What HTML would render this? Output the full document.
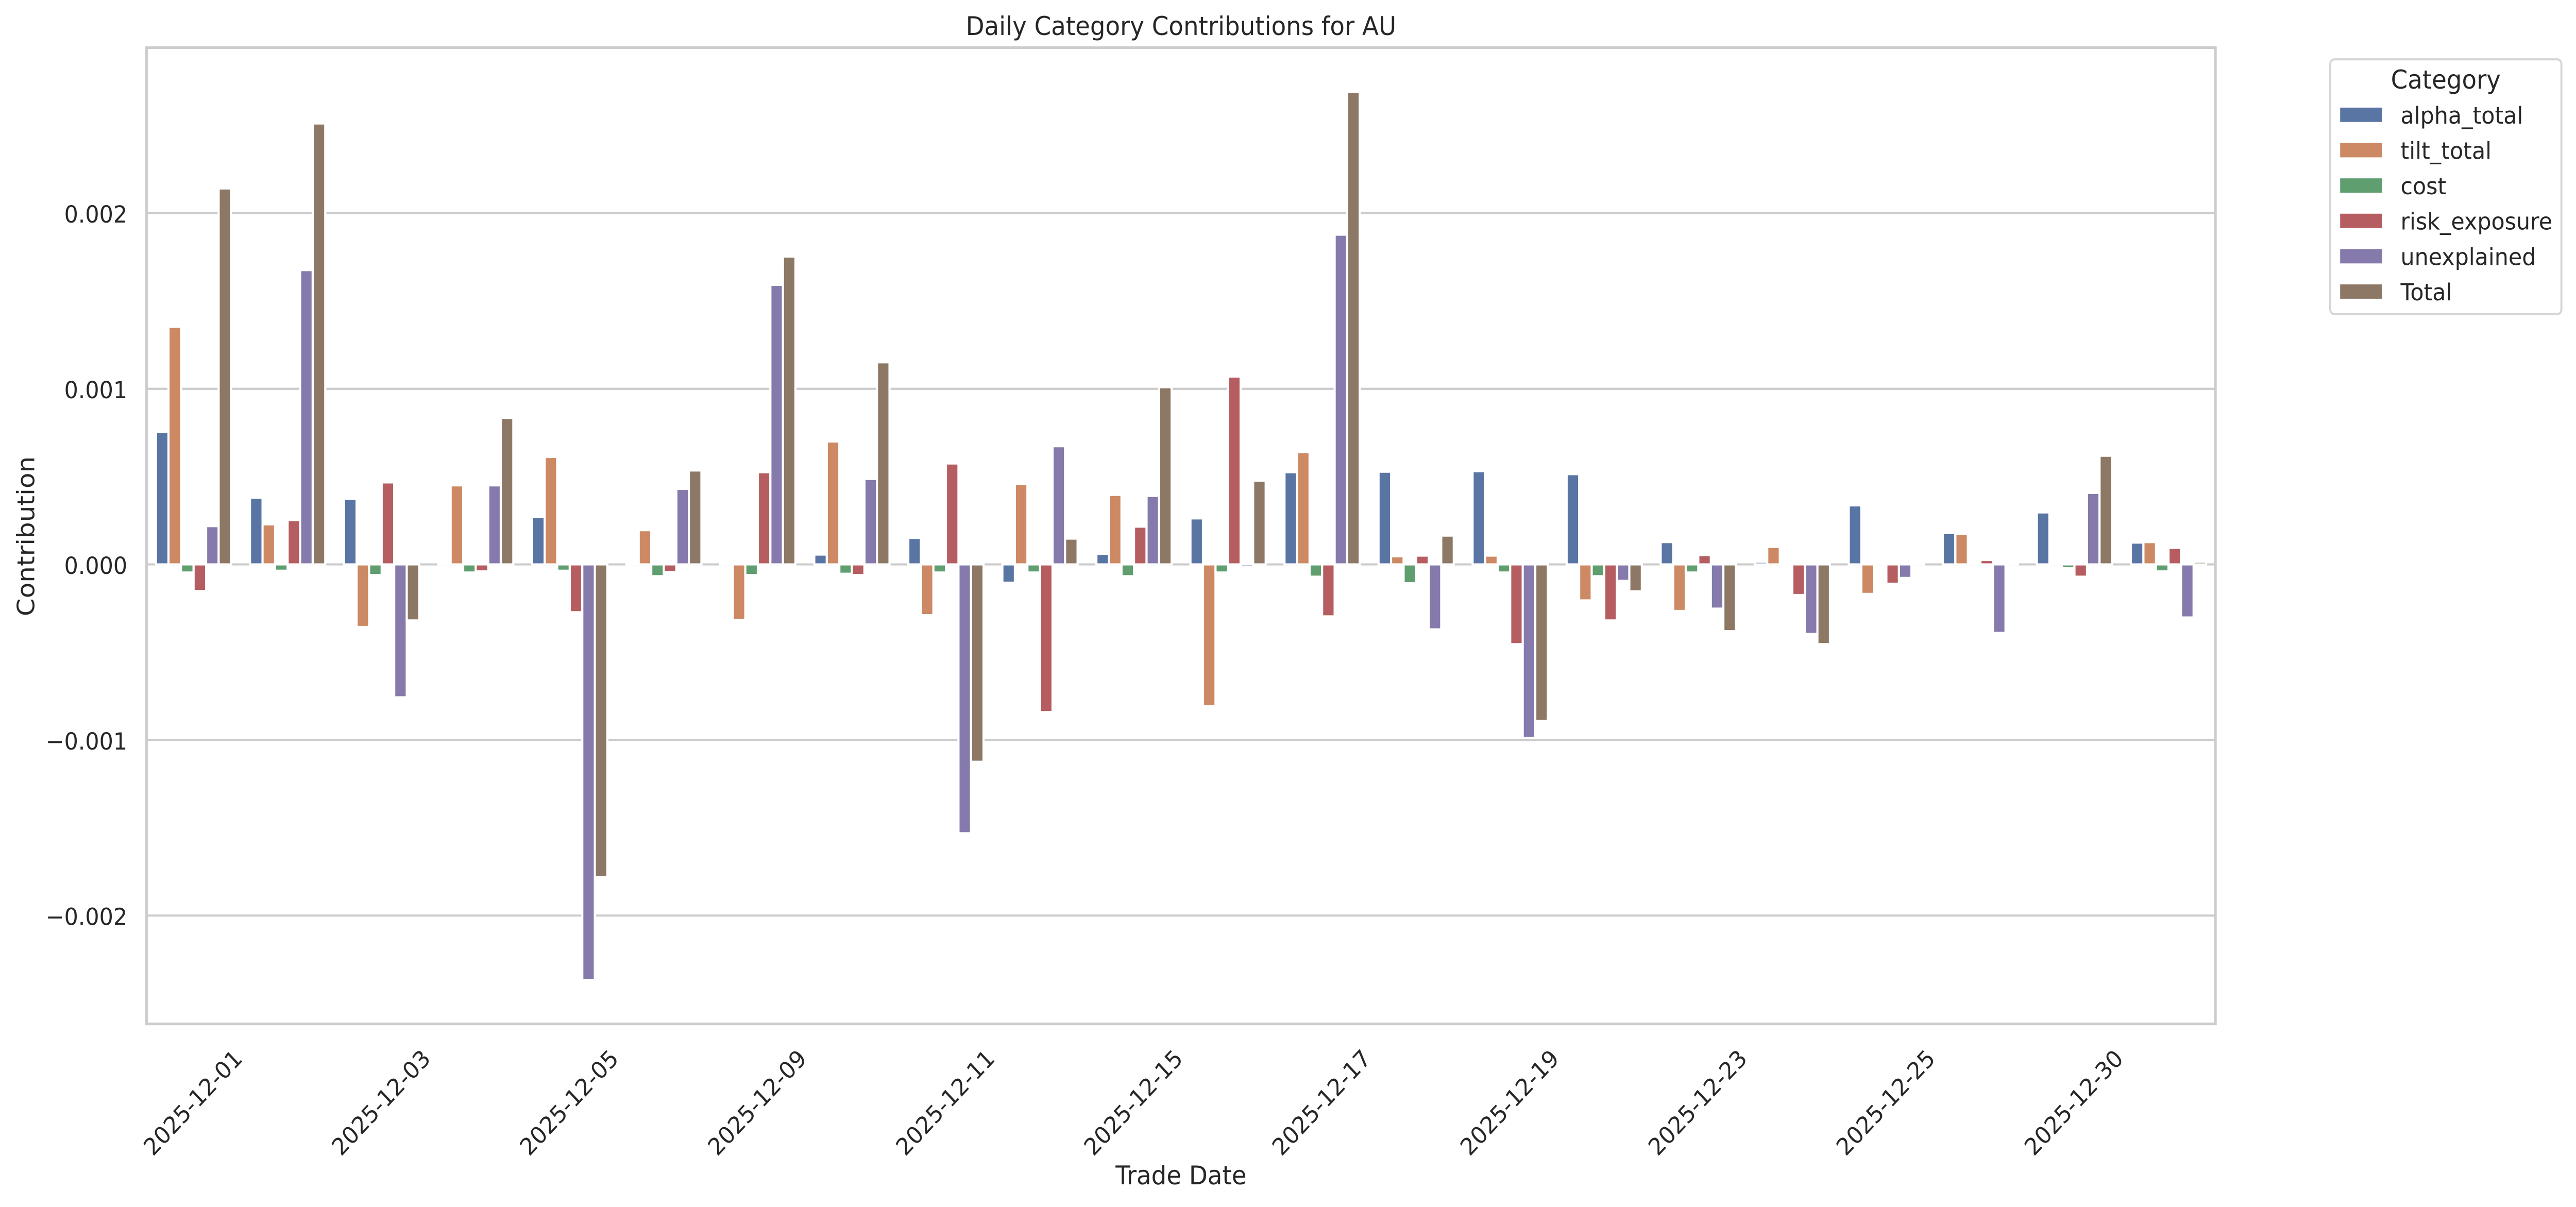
<!DOCTYPE html>
<html>
<head>
<meta charset="utf-8">
<meta name="viewport" content="width=5352, initial-scale=1">
<style>
html,body{margin:0;padding:0;background:#fff;width:100%;height:100%;overflow:hidden;}
svg{display:block;width:100vw;height:100vh;}
.b rect{stroke:#ffffff;stroke-width:4.17px;vector-effect:non-scaling-stroke;}
</style>
</head>
<body>
<svg viewBox="0 0 5352 2343" preserveAspectRatio="none" xmlns="http://www.w3.org/2000/svg" font-family="'DejaVu Sans','Liberation Sans',sans-serif" fill="#262626">
<rect x="0" y="0" width="5352" height="2343" fill="#ffffff"/>

<!-- gridlines -->
<g stroke="#cccccc" stroke-width="4.17">
<line x1="304.5" y1="413.9" x2="4603" y2="413.9"/>
<line x1="304.5" y1="754.75" x2="4603" y2="754.75"/>
<line x1="304.5" y1="1095.6" x2="4603" y2="1095.6"/>
<line x1="304.5" y1="1436.45" x2="4603" y2="1436.45"/>
<line x1="304.5" y1="1777.3" x2="4603" y2="1777.3"/>
</g>

<!-- bars -->
<g class="b" transform="translate(304.5,1095.6) scale(195.39,-340.85)">
<g fill="#5875A4" transform="translate(0.1,0)">
<rect x="0" y="0" width="0.13333" height="0.753"/>
<rect x="1" y="0" width="0.13333" height="0.380"/>
<rect x="2" y="0" width="0.13333" height="0.373"/>
<rect x="3" y="0" width="0.13333" height="0.0001"/>
<rect x="4" y="0" width="0.13333" height="0.269"/>
<rect x="5" y="0" width="0.13333" height="0.0001"/>
<rect x="6" y="0" width="0.13333" height="0.0001"/>
<rect x="7" y="0" width="0.13333" height="0.056"/>
<rect x="8" y="0" width="0.13333" height="0.151"/>
<rect x="9" y="-0.104" width="0.13333" height="0.104"/>
<rect x="10" y="0" width="0.13333" height="0.060"/>
<rect x="11" y="0" width="0.13333" height="0.262"/>
<rect x="12" y="0" width="0.13333" height="0.525"/>
<rect x="13" y="0" width="0.13333" height="0.528"/>
<rect x="14" y="0" width="0.13333" height="0.531"/>
<rect x="15" y="0" width="0.13333" height="0.514"/>
<rect x="16" y="0" width="0.13333" height="0.127"/>
<rect x="17" y="0" width="0.13333" height="0.015"/>
<rect x="18" y="0" width="0.13333" height="0.336"/>
<rect x="19" y="0" width="0.13333" height="0.178"/>
<rect x="20" y="0" width="0.13333" height="0.296"/>
<rect x="21" y="0" width="0.13333" height="0.124"/>
</g>
<g fill="#CC8963" transform="translate(0.23333,0)">
<rect x="0" y="0" width="0.13333" height="1.353"/>
<rect x="1" y="0" width="0.13333" height="0.228"/>
<rect x="2" y="-0.356" width="0.13333" height="0.356"/>
<rect x="3" y="0" width="0.13333" height="0.450"/>
<rect x="4" y="0" width="0.13333" height="0.612"/>
<rect x="5" y="0" width="0.13333" height="0.195"/>
<rect x="6" y="-0.316" width="0.13333" height="0.316"/>
<rect x="7" y="0" width="0.13333" height="0.700"/>
<rect x="8" y="-0.289" width="0.13333" height="0.289"/>
<rect x="9" y="0" width="0.13333" height="0.457"/>
<rect x="10" y="0" width="0.13333" height="0.396"/>
<rect x="11" y="-0.807" width="0.13333" height="0.807"/>
<rect x="12" y="0" width="0.13333" height="0.639"/>
<rect x="13" y="0" width="0.13333" height="0.046"/>
<rect x="14" y="0" width="0.13333" height="0.050"/>
<rect x="15" y="-0.205" width="0.13333" height="0.205"/>
<rect x="16" y="-0.265" width="0.13333" height="0.265"/>
<rect x="17" y="0" width="0.13333" height="0.100"/>
<rect x="18" y="-0.168" width="0.13333" height="0.168"/>
<rect x="19" y="0" width="0.13333" height="0.174"/>
<rect x="20" y="0" width="0.13333" height="0.0001"/>
<rect x="21" y="0" width="0.13333" height="0.127"/>
</g>
<g fill="#5F9E6E" transform="translate(0.36667,0)">
<rect x="0" y="-0.046" width="0.13333" height="0.046"/>
<rect x="1" y="-0.036" width="0.13333" height="0.036"/>
<rect x="2" y="-0.060" width="0.13333" height="0.060"/>
<rect x="3" y="-0.046" width="0.13333" height="0.046"/>
<rect x="4" y="-0.036" width="0.13333" height="0.036"/>
<rect x="5" y="-0.067" width="0.13333" height="0.067"/>
<rect x="6" y="-0.060" width="0.13333" height="0.060"/>
<rect x="7" y="-0.053" width="0.13333" height="0.053"/>
<rect x="8" y="-0.046" width="0.13333" height="0.046"/>
<rect x="9" y="-0.046" width="0.13333" height="0.046"/>
<rect x="10" y="-0.067" width="0.13333" height="0.067"/>
<rect x="11" y="-0.046" width="0.13333" height="0.046"/>
<rect x="12" y="-0.070" width="0.13333" height="0.070"/>
<rect x="13" y="-0.107" width="0.13333" height="0.107"/>
<rect x="14" y="-0.046" width="0.13333" height="0.046"/>
<rect x="15" y="-0.067" width="0.13333" height="0.067"/>
<rect x="16" y="-0.046" width="0.13333" height="0.046"/>
<rect x="17" y="0" width="0.13333" height="0.0001"/>
<rect x="18" y="0" width="0.13333" height="0.0001"/>
<rect x="19" y="0" width="0.13333" height="0.0001"/>
<rect x="20" y="-0.022" width="0.13333" height="0.022"/>
<rect x="21" y="-0.040" width="0.13333" height="0.040"/>
</g>
<g fill="#B55D60" transform="translate(0.5,0)">
<rect x="0" y="-0.151" width="0.13333" height="0.151"/>
<rect x="1" y="0" width="0.13333" height="0.252"/>
<rect x="2" y="0" width="0.13333" height="0.467"/>
<rect x="3" y="-0.040" width="0.13333" height="0.040"/>
<rect x="4" y="-0.272" width="0.13333" height="0.272"/>
<rect x="5" y="-0.043" width="0.13333" height="0.043"/>
<rect x="6" y="0" width="0.13333" height="0.525"/>
<rect x="7" y="-0.060" width="0.13333" height="0.060"/>
<rect x="8" y="0" width="0.13333" height="0.575"/>
<rect x="9" y="-0.841" width="0.13333" height="0.841"/>
<rect x="10" y="0" width="0.13333" height="0.215"/>
<rect x="11" y="0" width="0.13333" height="1.070"/>
<rect x="12" y="-0.296" width="0.13333" height="0.296"/>
<rect x="13" y="0" width="0.13333" height="0.050"/>
<rect x="14" y="-0.454" width="0.13333" height="0.454"/>
<rect x="15" y="-0.319" width="0.13333" height="0.319"/>
<rect x="16" y="0" width="0.13333" height="0.053"/>
<rect x="17" y="-0.174" width="0.13333" height="0.174"/>
<rect x="18" y="-0.110" width="0.13333" height="0.110"/>
<rect x="19" y="0" width="0.13333" height="0.025"/>
<rect x="20" y="-0.070" width="0.13333" height="0.070"/>
<rect x="21" y="0" width="0.13333" height="0.094"/>
</g>
<g fill="#857AAB" transform="translate(0.63333,0)">
<rect x="0" y="0" width="0.13333" height="0.218"/>
<rect x="1" y="0" width="0.13333" height="1.676"/>
<rect x="2" y="-0.757" width="0.13333" height="0.757"/>
<rect x="3" y="0" width="0.13333" height="0.450"/>
<rect x="4" y="-2.366" width="0.13333" height="2.366"/>
<rect x="5" y="0" width="0.13333" height="0.430"/>
<rect x="6" y="0" width="0.13333" height="1.592"/>
<rect x="7" y="0" width="0.13333" height="0.487"/>
<rect x="8" y="-1.531" width="0.13333" height="1.531"/>
<rect x="9" y="0" width="0.13333" height="0.673"/>
<rect x="10" y="0" width="0.13333" height="0.390"/>
<rect x="11" y="-0.015" width="0.13333" height="0.015"/>
<rect x="12" y="0" width="0.13333" height="1.878"/>
<rect x="13" y="-0.370" width="0.13333" height="0.370"/>
<rect x="14" y="-0.989" width="0.13333" height="0.989"/>
<rect x="15" y="-0.094" width="0.13333" height="0.094"/>
<rect x="16" y="-0.252" width="0.13333" height="0.252"/>
<rect x="17" y="-0.396" width="0.13333" height="0.396"/>
<rect x="18" y="-0.077" width="0.13333" height="0.077"/>
<rect x="19" y="-0.390" width="0.13333" height="0.390"/>
<rect x="20" y="0" width="0.13333" height="0.407"/>
<rect x="21" y="-0.302" width="0.13333" height="0.302"/>
</g>
<g fill="#8D7866" transform="translate(0.76667,0)">
<rect x="0" y="0" width="0.13333" height="2.141"/>
<rect x="1" y="0" width="0.13333" height="2.511"/>
<rect x="2" y="-0.319" width="0.13333" height="0.319"/>
<rect x="3" y="0" width="0.13333" height="0.834"/>
<rect x="4" y="-1.780" width="0.13333" height="1.780"/>
<rect x="5" y="0" width="0.13333" height="0.535"/>
<rect x="6" y="0" width="0.13333" height="1.753"/>
<rect x="7" y="0" width="0.13333" height="1.151"/>
<rect x="8" y="-1.124" width="0.13333" height="1.124"/>
<rect x="9" y="0" width="0.13333" height="0.147"/>
<rect x="10" y="0" width="0.13333" height="1.009"/>
<rect x="11" y="0" width="0.13333" height="0.477"/>
<rect x="12" y="0" width="0.13333" height="2.690"/>
<rect x="13" y="0" width="0.13333" height="0.164"/>
<rect x="14" y="-0.892" width="0.13333" height="0.892"/>
<rect x="15" y="-0.154" width="0.13333" height="0.154"/>
<rect x="16" y="-0.380" width="0.13333" height="0.380"/>
<rect x="17" y="-0.454" width="0.13333" height="0.454"/>
<rect x="18" y="0" width="0.13333" height="0.0001"/>
<rect x="19" y="0" width="0.13333" height="0.0001"/>
<rect x="20" y="0" width="0.13333" height="0.619"/>
<rect x="21" y="0" width="0.13333" height="0.015"/>
</g>
</g>

<!-- spines -->
<rect x="304.5" y="92.5" width="4298.5" height="1895.1" fill="none" stroke="#cccccc" stroke-width="5.2"/>

<!-- y tick labels -->
<g font-size="45.83" text-anchor="end">
<text x="264.5" y="413.9" dy="0.4em">0.002</text>
<text x="264.5" y="754.75" dy="0.4em">0.001</text>
<text x="264.5" y="1095.6" dy="0.4em">0.000</text>
<text x="264.5" y="1436.45" dy="0.4em">−0.001</text>
<text x="264.5" y="1777.3" dy="0.4em">−0.002</text>
</g>

<!-- x tick labels -->
<g font-size="45.83" text-anchor="middle">
<text transform="translate(400.2,2139.8) rotate(-45)" dy="0.365em">2025-12-01</text>
<text transform="translate(791,2139.8) rotate(-45)" dy="0.365em">2025-12-03</text>
<text transform="translate(1181.8,2139.8) rotate(-45)" dy="0.365em">2025-12-05</text>
<text transform="translate(1572.5,2139.8) rotate(-45)" dy="0.365em">2025-12-09</text>
<text transform="translate(1963.3,2139.8) rotate(-45)" dy="0.365em">2025-12-11</text>
<text transform="translate(2354.1,2139.8) rotate(-45)" dy="0.365em">2025-12-15</text>
<text transform="translate(2744.9,2139.8) rotate(-45)" dy="0.365em">2025-12-17</text>
<text transform="translate(3135.7,2139.8) rotate(-45)" dy="0.365em">2025-12-19</text>
<text transform="translate(3526.4,2139.8) rotate(-45)" dy="0.365em">2025-12-23</text>
<text transform="translate(3917.2,2139.8) rotate(-45)" dy="0.365em">2025-12-25</text>
<text transform="translate(4308,2139.8) rotate(-45)" dy="0.365em">2025-12-30</text>
</g>

<!-- axis labels & title -->
<text x="2453.75" y="68" font-size="50" text-anchor="middle">Daily Category Contributions for AU</text>
<text x="2453.75" y="2299" font-size="50" text-anchor="middle">Trade Date</text>
<text transform="translate(71,1041) rotate(-90)" font-size="50" text-anchor="middle">Contribution</text>

<!-- legend -->
<rect x="4841.4" y="115.2" width="480.3" height="494.6" rx="9" ry="9" fill="#ffffff" stroke="#d6d6d6" stroke-width="4.17"/>
<text x="5081.5" y="172" font-size="50" text-anchor="middle">Category</text>
<g>
<rect x="4862" y="208.9" width="87" height="27.8" fill="#5875A4"/>
<rect x="4862" y="277.6" width="87" height="27.8" fill="#CC8963"/>
<rect x="4862" y="346.2" width="87" height="27.8" fill="#5F9E6E"/>
<rect x="4862" y="414.8" width="87" height="27.8" fill="#B55D60"/>
<rect x="4862" y="483.5" width="87" height="27.8" fill="#857AAB"/>
<rect x="4862" y="552.1" width="87" height="27.8" fill="#8D7866"/>
</g>
<g font-size="45.83">
<text x="4987.5" y="239.8">alpha_total</text>
<text x="4987.5" y="308.5">tilt_total</text>
<text x="4987.5" y="377.1">cost</text>
<text x="4987.5" y="445.7">risk_exposure</text>
<text x="4987.5" y="514.4">unexplained</text>
<text x="4987.5" y="583">Total</text>
</g>
</svg>
</body>
</html>
